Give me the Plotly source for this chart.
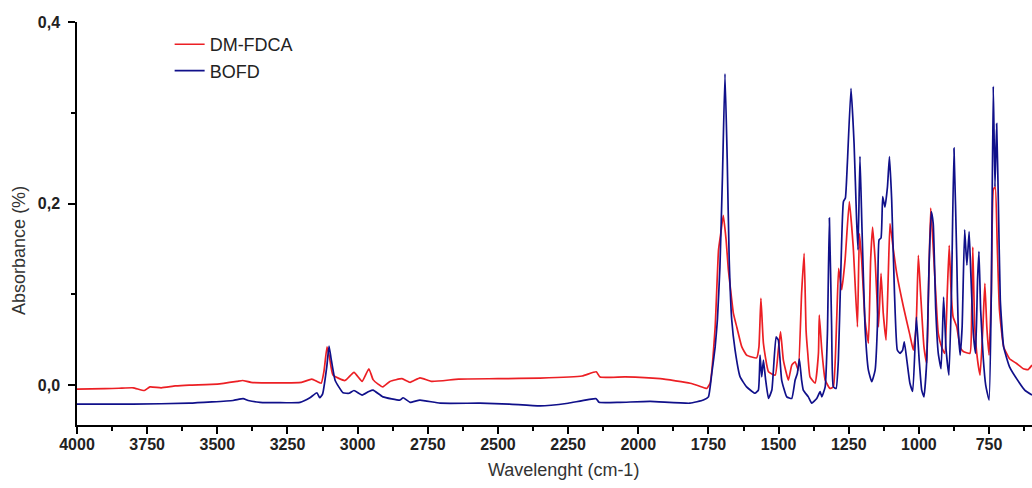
import plotly.graph_objects as go

# DM-FDCA (red) spectrum: wavenumber (cm-1) and absorbance
red_wn = [4000, 3900, 3850, 3800, 3760, 3740, 3700, 3650, 3600, 3500, 3430, 3410, 3380, 3300, 3200,
          3163, 3130, 3120, 3109, 3100, 3088, 3045, 3013, 2984, 2960, 2945, 2927, 2910, 2885, 2842,
          2813, 2778, 2735, 2640, 2500, 2350, 2200, 2150, 2136, 2047, 1922, 1815, 1762, 1756, 1744,
          1726, 1714, 1706, 1697, 1687, 1679, 1671, 1661, 1649, 1631, 1614, 1578, 1570, 1563, 1554,
          1536, 1512, 1501, 1493, 1483, 1465, 1453, 1441, 1430, 1418, 1409, 1402, 1396, 1388, 1370,
          1358, 1355, 1346, 1334, 1317, 1305, 1293, 1286, 1275, 1263, 1248, 1234, 1219, 1212, 1204,
          1192, 1180, 1172, 1165, 1156, 1144, 1135, 1127, 1117, 1109, 1103, 1091, 1079, 1055, 1032,
          1020, 1010, 1002, 994, 982, 972, 966, 958, 949, 940, 931, 919, 908, 899, 892, 885, 878,
          865, 853, 842, 818, 812, 808, 801, 791, 782, 772, 765, 758, 750, 742, 735, 728, 721, 713,
          698, 677, 653, 628, 611, 597]
red_abs = [-0.0044, -0.004, -0.0035, -0.003, -0.006, -0.002, -0.003, -0.001, 0.0, 0.001, 0.004, 0.005, 0.003, 0.0025, 0.003,
           0.0066, 0.002, 0.015, 0.042, 0.030, 0.011, 0.005, 0.014, 0.004, 0.018, 0.006, 0.001, -0.002, 0.004, 0.007,
           0.003, 0.008, 0.004, 0.0066, 0.007, 0.0077, 0.010, 0.0147, 0.0088, 0.009, 0.007, 0.002, -0.0033, -0.0037, 0.002,
           0.064, 0.149, 0.167, 0.187, 0.160, 0.127, 0.105, 0.079, 0.064, 0.042, 0.033, 0.030, 0.042, 0.0955, 0.046,
           0.0147, 0.011, 0.0386, 0.0588, 0.0275, 0.0055, 0.022, 0.0257, 0.0165, 0.101, 0.145, 0.060, 0.035, 0.009, 0.002,
           0.035, 0.077, 0.0386, 0.0055, -0.0037, -0.002, 0.072, 0.1286, 0.105, 0.138, 0.202, 0.152, 0.064, 0.167, 0.138,
           0.072, 0.046, 0.138, 0.174, 0.138, 0.064, 0.123, 0.079, 0.0496, 0.123, 0.178, 0.149, 0.123, 0.086, 0.055,
           0.0386, 0.064, 0.143, 0.101, 0.042, 0.024, 0.101, 0.195, 0.152, 0.101, 0.057, 0.042, 0.035, 0.101, 0.154, 0.101, 0.075,
           0.064, 0.042, 0.037, 0.035, 0.080, 0.152, 0.064, 0.0275, 0.011, 0.064, 0.112, 0.064, 0.033, 0.101, 0.215, 0.2185, 0.156, 0.083,
           0.042, 0.029, 0.024, 0.018, 0.017, 0.022]

# BOFD (blue) spectrum
blue_wn = [4000, 3800, 3600, 3444, 3408, 3390, 3348, 3205, 3170, 3145, 3135, 3125, 3110, 3102, 3095,
           3080, 3052, 3030, 3013, 2984, 2960, 2945, 2910, 2849, 2838, 2813, 2778, 2706, 2564, 2460,
           2350, 2250, 2150, 2140, 2065, 1958, 1816, 1768, 1750, 1738, 1726, 1718, 1709, 1700, 1691,
           1683, 1676, 1667, 1655, 1637, 1614, 1584, 1572, 1566, 1560, 1554, 1546, 1536, 1524, 1509,
           1501, 1489, 1471, 1453, 1441, 1433, 1426, 1418, 1412, 1394, 1382, 1364, 1352, 1346, 1334,
           1326, 1319, 1311, 1305, 1295, 1287, 1279, 1269, 1262, 1255, 1242, 1231, 1222, 1217, 1210,
           1203, 1192, 1180, 1168, 1156, 1148, 1142, 1135, 1129, 1121, 1112, 1105, 1097, 1087, 1077,
           1067, 1058, 1052, 1043, 1032, 1022, 1009, 999, 990, 982, 972, 964, 956, 949, 940,
           931, 921, 912, 903, 893, 884, 875, 865, 860, 853, 846, 837, 829, 821, 815,
           806, 798, 791, 786, 780, 771, 762, 750, 742, 735, 729, 723, 717, 710, 698,
           677, 641, 623, 597]
blue_abs = [-0.021, -0.021, -0.020, -0.017, -0.015, -0.017, -0.019, -0.019, -0.014, -0.0085, -0.014, -0.010, 0.020, 0.043, 0.030,
            0.005, -0.0085, -0.009, -0.006, -0.011, -0.007, -0.0055, -0.013, -0.0165, -0.014, -0.019, -0.0165, -0.020, -0.020, -0.021,
            -0.023, -0.020, -0.015, -0.019, -0.019, -0.018, -0.020, -0.0165, -0.013, 0.013, 0.042, 0.072, 0.130, 0.230, 0.343,
            0.248, 0.138, 0.072, 0.0386, 0.009, -0.002, -0.009, -0.0055, 0.033, 0.009, 0.0275, 0.0055, -0.0147, -0.0055, 0.053,
            0.0496, 0.0055, -0.013, -0.0147, 0.0055, 0.013, 0.029, 0.0055, -0.0055, -0.013, -0.020, -0.0147, -0.0073, -0.013, -0.002,
            0.057, 0.184, 0.064, -0.002, -0.0037, 0.0275, 0.116, 0.202, 0.206, 0.244, 0.327, 0.266, 0.182, 0.149, 0.252,
            0.174, 0.064, 0.0165, 0.0037, 0.0165, 0.064, 0.160, 0.162, 0.2075, 0.196, 0.2185, 0.2516, 0.204, 0.101, 0.0386,
            0.035, 0.0386, 0.0477, 0.0275, 0.002, -0.007, 0.075, 0.0275, -0.0055, -0.013, 0.0275, 0.130, 0.191, 0.178, 0.083,
            0.035, 0.018, 0.097, 0.0386, 0.011, 0.101, 0.261, 0.138, 0.064, 0.033, 0.064, 0.171, 0.132, 0.169, 0.123,
            0.057, 0.035, 0.116, 0.147, 0.083, 0.031, 0.0, -0.0165, 0.101, 0.329, 0.2185, 0.288, 0.204, 0.094, 0.042,
            0.020, 0.002, -0.0055, -0.011]

x_ticks = [4000, 3750, 3500, 3250, 3000, 2750, 2500, 2250, 2000, 1750, 1500, 1250, 1000, 750]
y_ticks = [0.0, 0.2, 0.4]

FONT = "Liberation Sans, Arial, sans-serif"

fig = go.Figure()
fig.add_trace(go.Scatter(x=red_wn, y=red_abs, mode="lines", name="DM-FDCA",
                         line=dict(color="#ec1f24", width=1.7, shape="spline", smoothing=0.4)))
fig.add_trace(go.Scatter(x=blue_wn, y=blue_abs, mode="lines", name="BOFD",
                         line=dict(color="#10108a", width=1.7, shape="spline", smoothing=0.4)))

tickfont = dict(family=FONT, size=16, color="#222222", weight="bold")
titlefont = dict(family=FONT, size=18, color="#333333")

fig.update_layout(
    width=1032, height=488,
    margin=dict(l=77, r=0, t=22, b=63),
    paper_bgcolor="white", plot_bgcolor="white",
    separators=",.",
    showlegend=True,
    legend=dict(x=0.097, y=0.99, xanchor="left", yanchor="top",
                bgcolor="rgba(0,0,0,0)", borderwidth=0,
                font=dict(family=FONT, size=18, color="#222222")),
    xaxis=dict(range=[4000, 597], tickvals=x_ticks, ticktext=[str(v) for v in x_ticks],
               showgrid=False, zeroline=False, showline=True, linecolor="black", linewidth=1.5,
               ticks="outside", ticklen=7, tickwidth=1.5, tickcolor="black", tickfont=tickfont,
               ticklabelstandoff=-3,
               minor=dict(dtick=125, tick0=0, ticks="outside", ticklen=4, tickwidth=1.5, tickcolor="black", showgrid=False)),
    yaxis=dict(range=[-0.044, 0.4], tickvals=y_ticks, tickformat=".1f",
               showgrid=False, zeroline=False, showline=True, linecolor="black", linewidth=1.5,
               ticks="outside", ticklen=7, tickwidth=1.5, tickcolor="black", tickfont=tickfont,
               ticklabelstandoff=5,
               minor=dict(dtick=0.1, tick0=0, ticks="outside", ticklen=4, tickwidth=1.5, tickcolor="black", showgrid=False)),
    annotations=[
        dict(text="Wavelenght (cm-1)", xref="paper", yref="paper", x=0.509, y=-0.112,
             xanchor="center", yanchor="middle", showarrow=False, font=titlefont),
        dict(text="Absorbance (%)", xref="paper", yref="paper", x=-0.0607, y=0.432,
             xanchor="center", yanchor="middle", textangle=-90, showarrow=False, font=titlefont),
    ],
)

fig.write_html("out.html")
